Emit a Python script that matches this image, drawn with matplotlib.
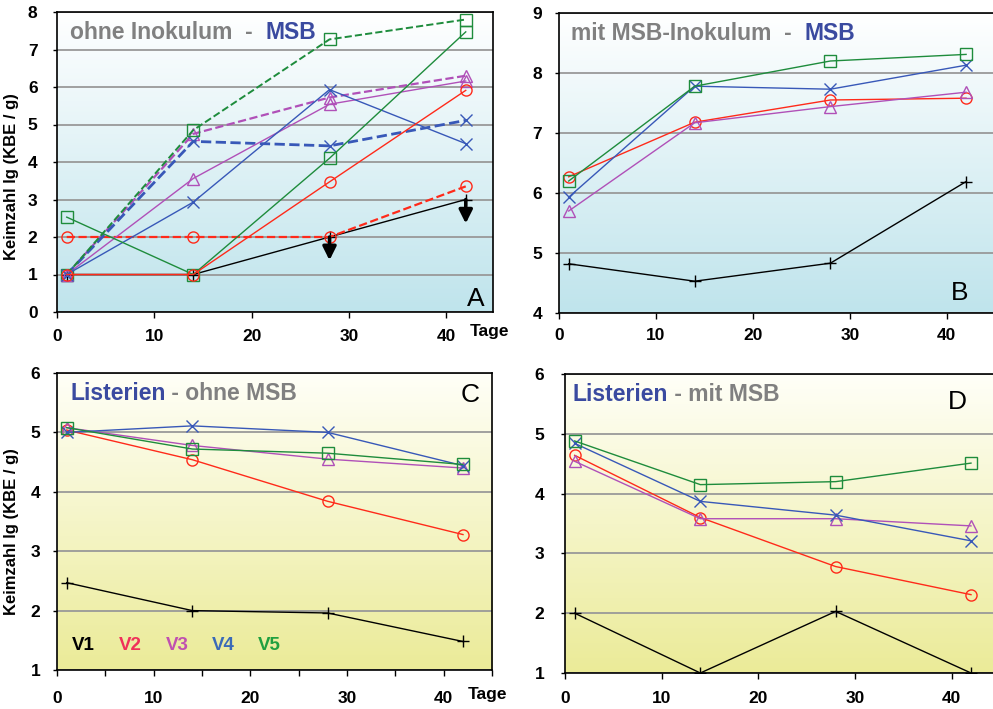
import matplotlib
matplotlib.use("Agg")
import matplotlib.pyplot as plt
import numpy as np
from matplotlib.colors import LinearSegmentedColormap

plt.rcParams['font.family'] = ['Liberation Sans', 'DejaVu Sans']

# Probenahmetage
days = [1, 14, 28, 42]

# A: ohne Inokulum - MSB (durchgezogen / gestrichelt)
a_v1 = [1, 1, 2, 3]
a_v2 = [1, 1, 3.47, 5.91]
a_v3 = [1, 3.56, 5.54, 6.16]
a_v4 = [1, 2.93, 5.93, 4.49]
a_v5 = [2.53, 1, 4.1, 7.47]
a_v2_d = [2, 2, 2, 3.35]
a_v3_d = [1, 4.75, 5.72, 6.3]
a_v4_d = [1, 4.55, 4.43, 5.11]
a_v5_d = [1, 4.85, 7.27, 7.8]
a_arrow_days = [28, 42]
a_arrow_from = [2, 3]
a_arrow_to = [1.38, 2.36]

# B: mit MSB-Inokulum - MSB
b_v1 = [4.82, 4.53, 4.83, 6.19]
b_v2 = [6.27, 7.18, 7.55, 7.58]
b_v3 = [5.7, 7.17, 7.44, 7.68]
b_v4 = [5.93, 7.78, 7.73, 8.13]
b_v5 = [6.2, 7.78, 8.2, 8.31]

# C: Listerien - ohne MSB
c_v1 = [2.47, 2.0, 1.96, 1.48]
c_v2 = [5.04, 4.54, 3.84, 3.28]
c_v3 = [5.08, 4.78, 4.55, 4.4]
c_v4 = [5.0, 5.11, 5.0, 4.44]
c_v5 = [5.08, 4.72, 4.65, 4.46]

# D: Listerien - mit MSB
d_v1 = [2.0, 1.0, 2.03, 1.0]
d_v2 = [4.64, 3.6, 2.78, 2.31]
d_v3 = [4.54, 3.58, 3.58, 3.46]
d_v4 = [4.84, 3.87, 3.64, 3.21]
d_v5 = [4.88, 4.15, 4.2, 4.51]

names = ['V1', 'V2', 'V3', 'V4', 'V5']
colors = ['black', '#ff2a1a', '#b050b8', '#3858b8', '#1e8c3c']
markers = ['+', 'o', '^', 'x', 's']
legend_colors = ['black', '#f0305a', '#c050b0', '#3a6ab8', '#20a040']

gray = '#808080'
blue_t = '#3a4aa0'

fig = plt.figure(figsize=(9.93, 7.09), dpi=100)
W, H = 993.0, 709.0


def make_ax(l, r, t, b):
    return fig.add_axes([l / W, (H - b) / H, (r - l) / W, (b - t) / H])


axA = make_ax(57, 493, 12, 312)
axB = make_ax(559, 1000, 13, 313)
axC = make_ax(57, 492, 373, 670)
axD = make_ax(565, 1000, 374, 673)


def background(ax, top, bottom):
    cmap = LinearSegmentedColormap.from_list('bg', [bottom, top])
    grad = np.linspace(0, 1, 256).reshape(-1, 1)
    ax.imshow(grad, extent=[0, 1, 0, 1], transform=ax.transAxes, cmap=cmap,
              aspect='auto', origin='lower', zorder=-1)


def series(ax, vals, i, ls='-', lw=1.0):
    ax.plot(days, vals, color=colors[i], ls=ls, lw=lw, marker=markers[i],
            markersize=8, mfc='none', mew=1.0)


def style(ax, ymin, ymax, xmax, xpad, ypad):
    ax.set_xlim(0, xmax)
    ax.set_ylim(ymin, ymax)
    ax.set_xticks([0, 10, 20, 30, 40])
    ax.set_yticks(range(ymin, ymax + 1))
    ax.yaxis.grid(True, color='#999999', lw=1.3)
    ax.set_axisbelow(True)
    ax.tick_params(axis='x', direction='out', length=4, width=1, pad=xpad,
                   labelsize=12.5)
    ax.tick_params(axis='y', direction='out', length=3, width=1, pad=ypad,
                   labelsize=12.5)
    for lab in ax.get_xticklabels() + ax.get_yticklabels():
        lab.set_fontweight('bold')
    for s in ax.spines.values():
        s.set_linewidth(1.2)


def two_color_title(ax, x, y, parts):
    t = ax.text(x, y, parts[0][0], color=parts[0][1], transform=ax.transAxes,
                fontsize=16.5, fontweight='bold', va='center', ha='left')
    for txt, col in parts[1:]:
        t = ax.annotate(txt, xycoords=t, xy=(1, 0), va='bottom', ha='left',
                        color=col, fontsize=16.5, fontweight='bold')


# ---- A ----
ax = axA
background(ax, '#ffffff', '#bfe4ec')
series(ax, a_v1, 0)
series(ax, a_v2_d, 1, ls='--', lw=1.6)
series(ax, a_v3_d, 2, ls='--', lw=1.6)
series(ax, a_v4_d, 3, ls='--', lw=2.0)
series(ax, a_v5_d, 4, ls='--', lw=1.4)
series(ax, a_v3, 2)
series(ax, a_v4, 3)
series(ax, a_v5, 4)
series(ax, a_v2, 1)
for d, y0, y1 in zip(a_arrow_days, a_arrow_from, a_arrow_to):
    ax.annotate('', xy=(d, y1), xytext=(d, y0),
                arrowprops=dict(arrowstyle='-|>', lw=2.5, color='black',
                                mutation_scale=20, shrinkA=0, shrinkB=0))
style(ax, 0, 8, 44.8, 8, 11)
ax.set_ylabel('Keimzahl lg (KBE / g)', fontsize=12, fontweight='bold')
ax.yaxis.set_label_coords(-0.087, 0.45)
two_color_title(ax, 0.03, 0.932, [('ohne Inokulum  -  ', gray), ('MSB', blue_t)])
ax.text(0.96, 0.045, 'A', transform=ax.transAxes, fontsize=19, ha='center', va='center')
ax.text(0.947, -0.065, 'Tage', transform=ax.transAxes, fontsize=12.5,
        fontweight='bold', ha='left', va='center')

# ---- B ----
ax = axB
background(ax, '#ffffff', '#bfe4ec')
for i, v in enumerate([b_v1, b_v2, b_v3, b_v4, b_v5]):
    series(ax, v, i)
style(ax, 4, 9, 45.5, 7, 9)
two_color_title(ax, 0.027, 0.932, [('mit MSB-Inokulum  -  ', gray), ('MSB', blue_t)])
ax.text(0.909, 0.067, 'B', transform=ax.transAxes, fontsize=19, ha='center', va='center')

# ---- C ----
ax = axC
background(ax, '#fffff8', '#ebeb98')
for i, v in enumerate([c_v1, c_v2, c_v3, c_v4, c_v5]):
    series(ax, v, i)
style(ax, 1, 6, 45, 11, 9)
ax.set_xticks([5, 15, 25, 35, 45], minor=True)
ax.tick_params(axis='x', which='minor', direction='out', length=4, width=1)
ax.set_ylabel('Keimzahl lg (KBE / g)', fontsize=12, fontweight='bold')
ax.yaxis.set_label_coords(-0.087, 0.465)
two_color_title(ax, 0.03, 0.93, [('Listerien', blue_t), (' - ohne MSB', gray)])
ax.text(0.949, 0.926, 'C', transform=ax.transAxes, fontsize=19, ha='center', va='center')
ax.text(0.945, -0.084, 'Tage', transform=ax.transAxes, fontsize=12.5,
        fontweight='bold', ha='left', va='center')
for name, col, x in zip(names, legend_colors, [0.034, 0.143, 0.25, 0.356, 0.462]):
    ax.text(x, 0.084, name, color=col, transform=ax.transAxes, fontsize=13.5,
            fontweight='bold', ha='left', va='center')

# ---- D ----
ax = axD
background(ax, '#fffff8', '#ebeb98')
for i, v in enumerate([d_v1, d_v2, d_v3, d_v4, d_v5]):
    series(ax, v, i)
style(ax, 1, 6, 45.0, 9, 12)
two_color_title(ax, 0.017, 0.93, [('Listerien', blue_t), (' - mit MSB', gray)])
ax.text(0.903, 0.906, 'D', transform=ax.transAxes, fontsize=19, ha='center', va='center')

fig.savefig('out.png', dpi=100)
